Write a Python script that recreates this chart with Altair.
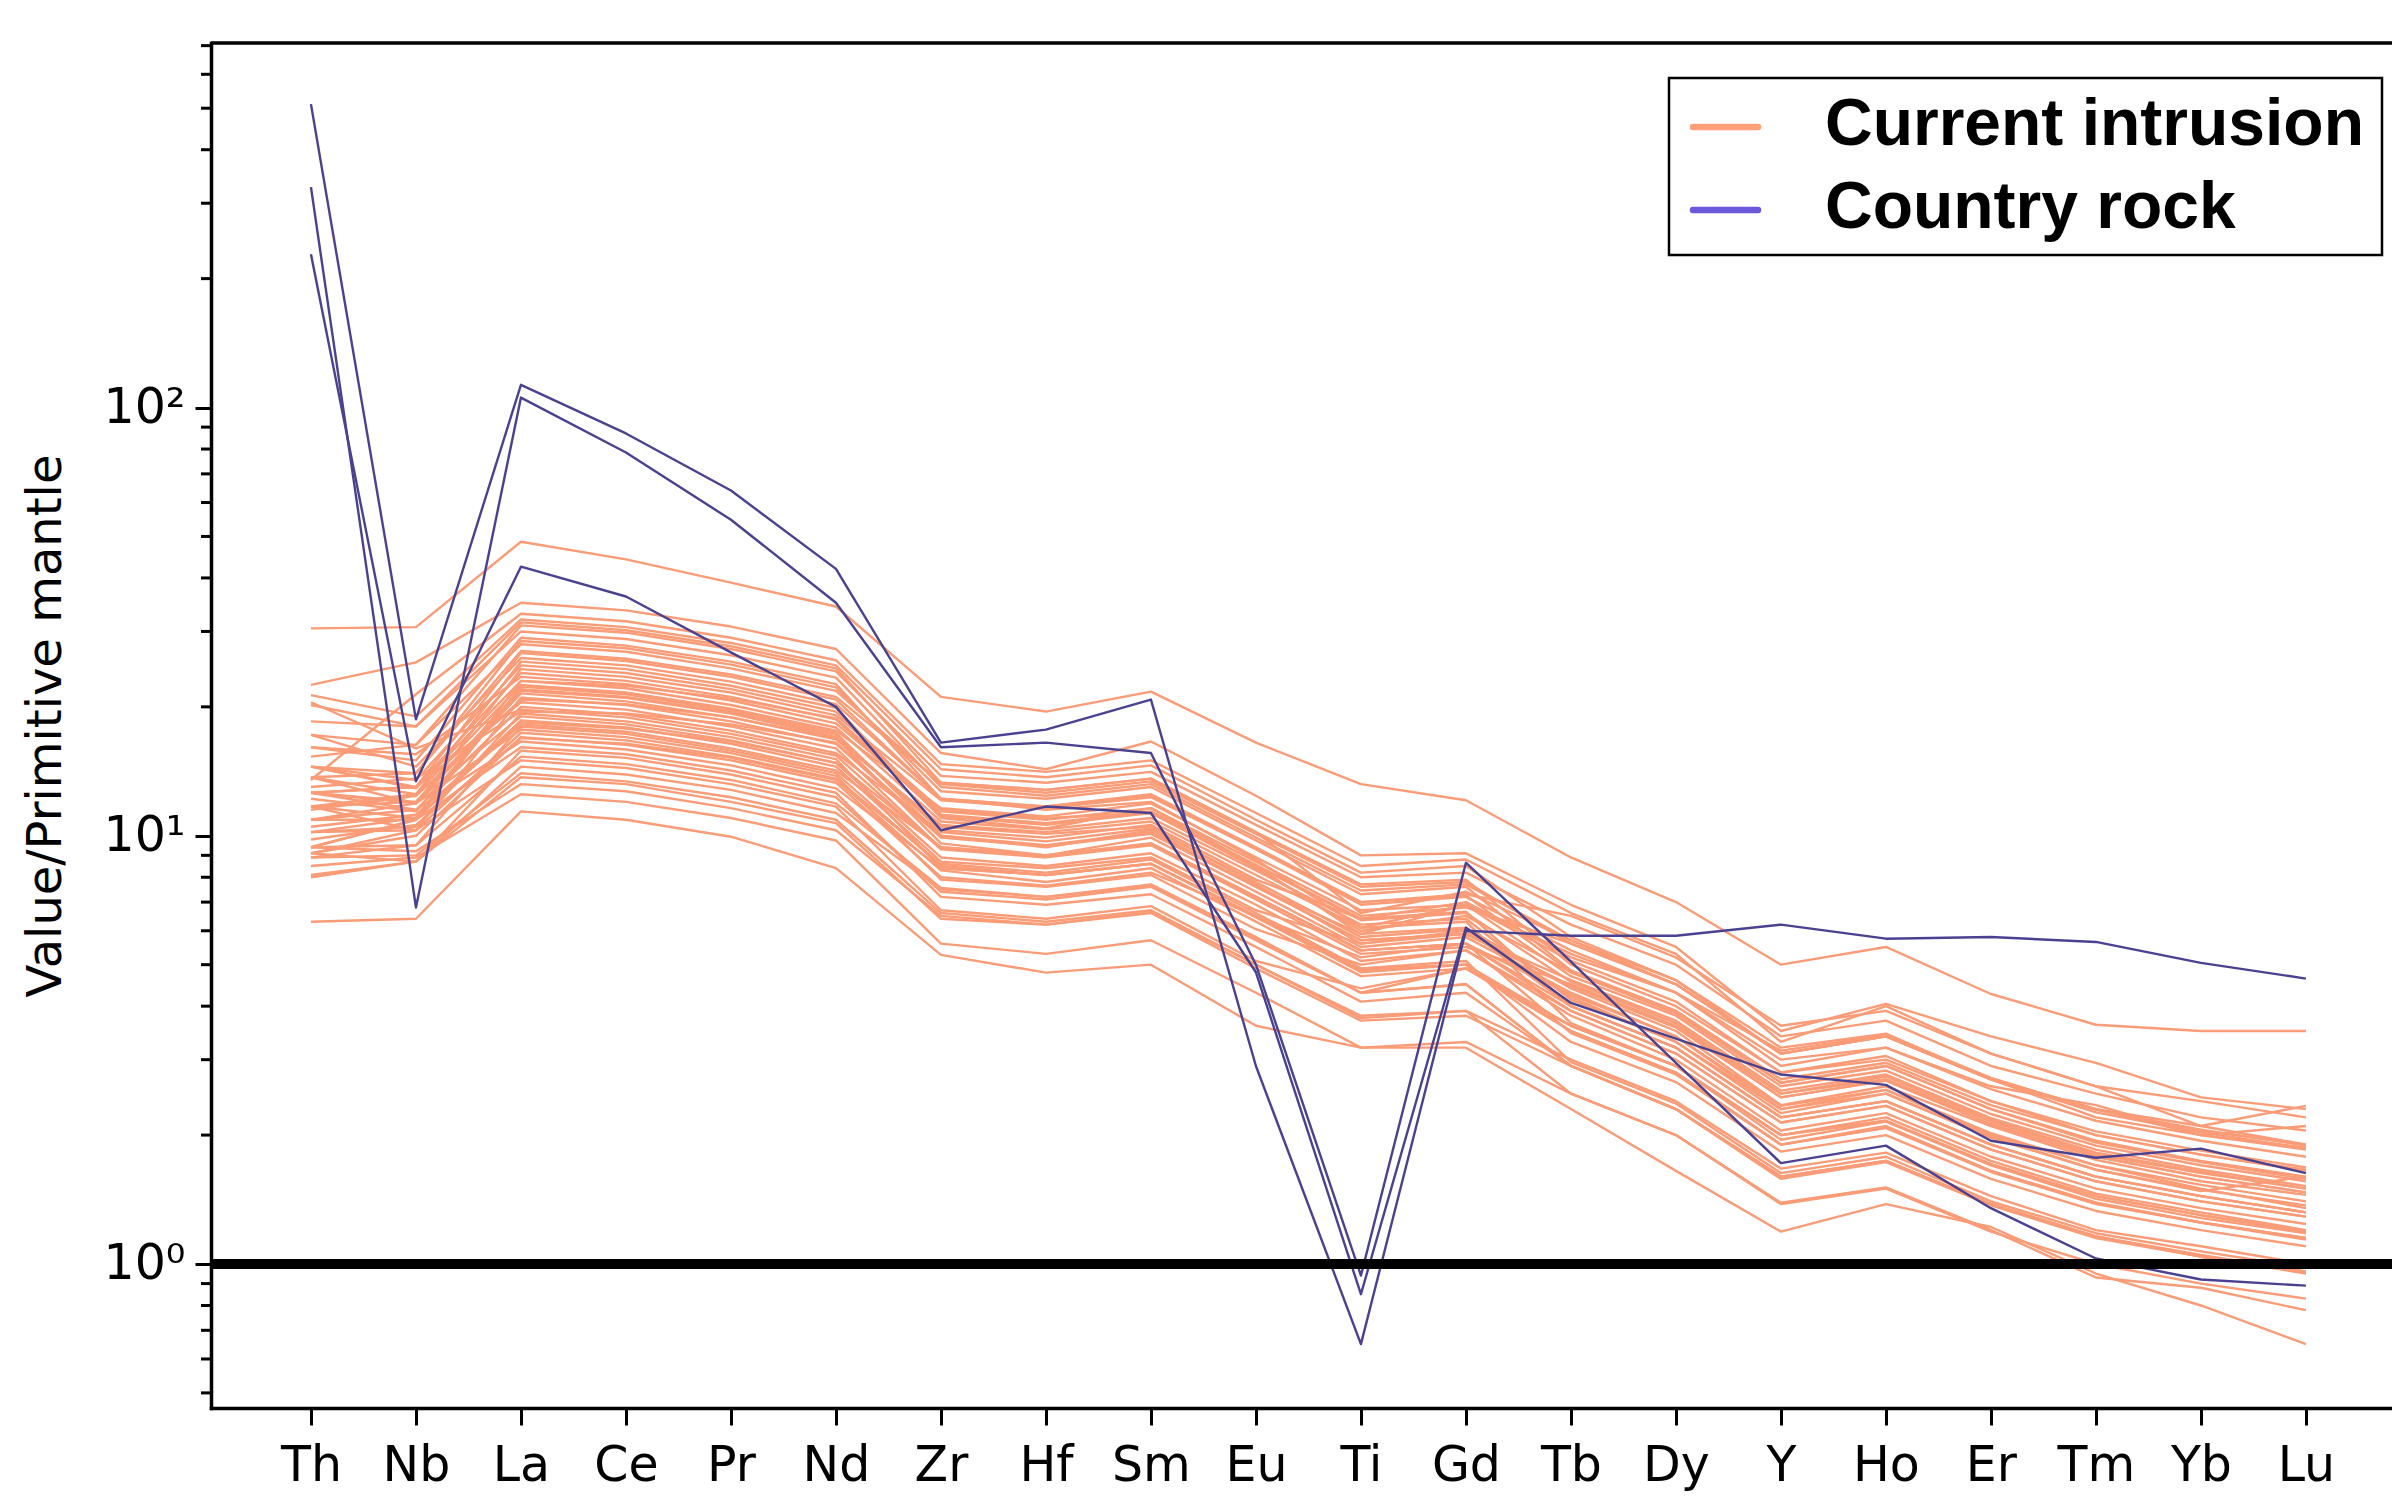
import altair as alt
import pandas as pd

elements = ["Th", "Nb", "La", "Ce", "Pr", "Nd", "Zr", "Hf", "Sm", "Eu",
            "Ti", "Gd", "Tb", "Dy", "Y", "Ho", "Er", "Tm", "Yb", "Lu"]

# Current intrusion samples (normalised to primitive mantle)
o01 = [30.5, 30.7, 48.6, 44.2, 39.0, 34.3, 21.1, 19.5, 21.7, 16.5, 13.2, 12.1, 8.9, 7.0, 5.0, 5.5, 4.27, 3.62, 3.5, 3.5]
o02 = [6.3, 6.4, 11.4, 10.9, 9.95, 8.4, 5.27, 4.79, 5.0, 3.6, 3.2, 3.2, 2.3, 1.65, 1.19, 1.38, 1.22, 0.95, 0.8, 0.65]
o03 = [22.5, 25.4, 35.0, 33.6, 30.8, 27.3, 15.6, 14.3, 16.6, 12.4, 9.0, 9.1, 6.9, 5.5, 3.5, 4.05, 3.4, 2.95, 2.45, 2.3]
o04 = [13.5, 21.4, 33.0, 31.7, 29.0, 25.7, 14.7, 14.1, 15.0, 11.3, 8.5, 8.8, 6.6, 5.3, 3.3, 4.0, 3.1, 2.6, 2.4, 2.2]
o05 = [21.3, 19.0, 32.0, 30.7, 28.2, 25.0, 14.3, 13.7, 14.6, 10.9, 8.2, 8.5, 5.8, 4.6, 3.2, 3.45, 2.7, 2.3, 2.1, 1.9]
o06 = [20.2, 18.0, 31.5, 30.2, 27.7, 24.6, 13.3, 12.8, 13.6, 10.2, 7.7, 7.9, 5.0, 4.0, 2.8, 3.0, 2.4, 2.0, 1.8, 1.66]
o07 = [17.2, 16.3, 31.0, 29.8, 27.3, 24.2, 13.8, 13.3, 14.1, 10.6, 8.0, 8.2, 6.2, 5.0, 3.4, 3.7, 2.9, 2.5, 2.2, 2.05]
o08 = [18.5, 18.0, 30.0, 28.8, 26.4, 23.4, 13.0, 12.4, 13.2, 9.9, 7.45, 7.7, 5.7, 4.6, 3.1, 3.4, 2.7, 2.3, 2.05, 1.9]
o09 = [16.1, 15.0, 29.0, 27.8, 25.5, 22.6, 12.2, 11.5, 12.0, 8.8, 6.1, 6.9, 5.3, 4.3, 2.9, 3.2, 2.6, 2.35, 2.0, 2.1]
o10 = [14.5, 14.0, 28.5, 27.4, 25.1, 22.2, 12.7, 12.2, 13.0, 9.75, 7.3, 7.6, 4.85, 3.9, 2.65, 2.9, 2.3, 1.94, 1.74, 1.6]
o11 = [15.3, 16.3, 28.0, 26.9, 24.6, 21.8, 13.2, 12.6, 13.4, 10.1, 7.6, 7.8, 5.6, 4.5, 3.1, 3.4, 2.7, 2.2, 2.0, 1.85]
o12 = [13.7, 14.0, 27.0, 25.9, 23.8, 21.1, 13.3, 12.8, 13.6, 10.2, 6.6, 7.4, 5.7, 4.5, 3.1, 3.4, 2.7, 2.3, 2.0, 1.87]
o13 = [12.6, 13.0, 26.7, 25.6, 23.5, 20.8, 12.2, 11.7, 12.4, 9.3, 7.0, 7.25, 4.8, 3.85, 2.65, 2.9, 2.3, 1.92, 1.73, 1.58]
o14 = [17.2, 14.5, 26.0, 25.0, 22.9, 20.3, 12.2, 11.7, 12.5, 9.4, 7.0, 7.3, 6.5, 5.2, 3.6, 3.9, 3.1, 2.6, 2.1, 2.34]
o15 = [11.7, 12.5, 25.5, 24.5, 22.4, 19.9, 11.0, 10.4, 11.6, 8.5, 5.9, 6.9, 5.1, 4.1, 2.8, 3.06, 2.4, 2.04, 1.84, 1.68]
o16 = [14.5, 13.5, 25.0, 24.0, 22.0, 19.5, 11.2, 10.7, 11.4, 8.55, 6.4, 6.65, 4.0, 3.2, 2.2, 2.4, 1.9, 1.6, 1.44, 1.32]
o17 = [10.9, 11.9, 24.5, 23.5, 21.6, 19.1, 12.1, 11.6, 12.3, 9.3, 6.9, 7.2, 5.4, 4.3, 3.0, 3.2, 2.56, 2.16, 1.94, 1.78]
o18 = [12.6, 13.0, 24.0, 23.0, 21.1, 18.7, 11.1, 10.6, 11.3, 8.5, 6.35, 6.6, 4.56, 3.65, 2.5, 2.74, 2.17, 1.82, 1.64, 1.5]
o19 = [16.1, 15.5, 23.5, 22.6, 20.7, 18.3, 11.4, 10.9, 11.6, 8.7, 6.5, 6.8, 5.6, 4.5, 3.1, 3.4, 2.7, 2.26, 2.03, 1.86]
o20 = [10.2, 11.0, 23.0, 22.1, 20.2, 17.9, 10.8, 10.35, 11.0, 8.3, 6.2, 6.4, 4.14, 3.3, 2.3, 2.5, 1.97, 1.66, 1.49, 1.37]
o21 = [13.7, 12.5, 22.5, 21.6, 19.8, 17.6, 11.6, 11.1, 11.9, 8.9, 6.7, 6.9, 4.7, 3.8, 2.6, 2.83, 2.24, 1.89, 1.7, 1.56]
o22 = [9.4, 10.9, 22.3, 21.4, 19.6, 17.4, 10.0, 9.5, 10.2, 7.6, 5.7, 5.9, 4.46, 3.57, 2.45, 2.68, 2.12, 1.78, 1.6, 1.47]
o23 = [11.7, 12.0, 22.0, 21.1, 19.4, 17.2, 10.3, 9.9, 10.6, 7.9, 6.4, 7.0, 5.2, 4.3, 3.15, 3.43, 2.72, 2.29, 2.06, 1.89]
o24 = [12.6, 11.9, 21.5, 20.6, 18.9, 16.8, 10.6, 10.2, 10.8, 8.1, 6.1, 6.3, 3.65, 2.9, 2.0, 2.2, 1.74, 1.46, 1.32, 1.2]
o25 = [9.1, 10.3, 21.0, 20.2, 18.5, 16.4, 9.9, 9.45, 10.1, 7.6, 5.7, 5.9, 4.6, 3.7, 2.54, 2.77, 2.19, 1.85, 1.66, 1.52]
o26 = [14.5, 13.0, 20.5, 19.7, 18.0, 16.0, 9.35, 8.95, 9.55, 7.2, 5.4, 5.6, 3.9, 3.1, 2.14, 2.34, 1.85, 1.56, 1.4, 1.29]
o27 = [10.9, 11.5, 20.0, 19.2, 17.6, 15.6, 10.2, 9.7, 10.4, 7.8, 5.8, 6.05, 4.0, 3.2, 2.2, 2.4, 1.9, 1.6, 1.44, 1.32]
o28 = [20.5, 16.0, 19.7, 18.9, 17.3, 15.4, 9.3, 8.9, 9.5, 7.1, 5.3, 5.5, 4.5, 3.6, 2.5, 2.7, 2.15, 1.8, 1.63, 1.5]
o29 = [10.2, 10.5, 19.3, 18.5, 17.0, 15.1, 8.4, 8.1, 8.6, 6.5, 4.85, 5.0, 3.5, 2.8, 1.9, 2.08, 1.65, 1.39, 1.25, 1.15]
o30 = [12.6, 12.0, 19.0, 18.2, 16.7, 14.8, 9.4, 9.0, 9.6, 7.2, 5.4, 5.6, 4.0, 3.2, 2.2, 2.4, 1.9, 1.6, 1.44, 1.32]
o31 = [9.4, 10.9, 18.6, 17.9, 16.4, 14.5, 8.7, 8.4, 8.9, 6.7, 5.6, 5.9, 4.46, 3.57, 2.45, 2.68, 2.12, 1.78, 1.6, 1.47]
o32 = [11.7, 11.0, 18.2, 17.5, 16.0, 14.2, 9.4, 9.0, 9.6, 7.2, 5.4, 5.6, 3.46, 2.77, 1.9, 2.08, 1.64, 1.38, 1.25, 1.14]
o33 = [8.9, 9.5, 18.0, 17.3, 15.8, 14.0, 8.5, 8.1, 8.6, 6.5, 4.9, 5.0, 3.6, 2.9, 2.0, 2.16, 1.71, 1.44, 1.3, 1.19]
o34 = [13.7, 11.9, 17.7, 17.0, 15.6, 13.8, 7.9, 7.6, 8.1, 6.05, 5.0, 5.4, 3.9, 3.1, 2.14, 2.34, 1.85, 1.56, 1.4, 1.29]
o35 = [10.2, 10.3, 17.4, 16.7, 15.3, 13.6, 8.6, 8.2, 8.8, 6.6, 4.9, 5.1, 2.96, 2.37, 1.63, 1.78, 1.4, 1.18, 1.07, 0.98]
o36 = [9.1, 10.0, 17.0, 16.3, 15.0, 13.3, 8.0, 7.65, 8.2, 6.5, 5.2, 5.6, 4.25, 3.4, 2.34, 2.55, 2.02, 1.7, 1.53, 1.4]
o37 = [12.6, 11.5, 16.6, 15.9, 14.6, 12.9, 8.4, 8.1, 8.6, 6.45, 4.8, 5.0, 3.3, 2.66, 1.83, 2.0, 1.58, 1.33, 1.2, 1.1]
o38 = [10.9, 10.9, 16.1, 15.5, 14.2, 12.6, 7.2, 6.9, 7.3, 5.5, 4.1, 4.3, 2.9, 2.3, 1.6, 1.74, 1.38, 1.16, 1.04, 0.96]
o39 = [8.0, 8.7, 15.8, 15.2, 13.9, 12.3, 7.4, 7.1, 7.6, 5.7, 4.3, 4.9, 3.5, 2.8, 1.9, 2.1, 1.65, 1.39, 1.25, 1.15]
o40 = [9.4, 9.5, 15.3, 14.7, 13.5, 11.9, 7.55, 7.2, 7.7, 5.8, 4.3, 4.5, 2.9, 2.3, 1.6, 1.74, 1.38, 1.16, 1.05, 0.96]
o41 = [11.7, 10.3, 15.0, 14.4, 13.2, 11.7, 6.7, 6.4, 6.85, 5.1, 4.4, 4.9, 3.6, 2.9, 2.0, 2.16, 1.71, 1.44, 1.3, 1.19]
o42 = [9.1, 8.7, 14.5, 13.9, 12.8, 11.3, 7.5, 7.2, 7.65, 5.75, 4.3, 4.5, 2.9, 2.3, 1.6, 1.74, 1.38, 1.16, 1.04, 0.96]
o43 = [8.9, 9.0, 14.0, 13.4, 12.3, 10.9, 6.6, 6.3, 6.7, 5.0, 3.8, 3.9, 2.5, 2.0, 1.39, 1.51, 1.2, 0.93, 0.88, 0.78]
o44 = [8.1, 8.7, 13.7, 13.2, 12.0, 10.7, 6.4, 6.2, 6.6, 4.9, 3.7, 3.8, 2.9, 2.3, 1.58, 1.73, 1.37, 1.15, 1.04, 0.95]
o45 = [9.4, 9.2, 13.2, 12.7, 11.6, 10.3, 6.5, 6.2, 6.65, 5.0, 3.75, 3.9, 3.0, 2.4, 1.67, 1.82, 1.44, 1.2, 1.1, 1.0]
o46 = [8.5, 8.9, 12.5, 12.0, 11.0, 9.75, 5.6, 5.3, 5.7, 4.3, 3.2, 3.3, 2.5, 2.0, 1.38, 1.5, 1.19, 1.0, 0.9, 0.83]
o47 = [14.5, 12.9, 23.0, 22.4, 20.9, 18.8, 11.5, 11.0, 11.3, 8.4, 6.0, 6.5, 4.8, 3.9, 2.7, 2.95, 2.35, 2.0, 1.8, 1.65]
o48 = [11.5, 12.4, 20.8, 20.3, 18.9, 16.9, 9.6, 9.0, 9.9, 7.4, 5.5, 5.8, 4.3, 3.4, 2.3, 2.55, 2.0, 1.7, 1.5, 1.35]
o49 = [13.0, 13.6, 19.5, 19.3, 18.2, 16.5, 10.0, 9.4, 10.3, 7.6, 5.9, 6.1, 4.4, 3.5, 2.35, 2.6, 2.1, 1.75, 1.56, 1.45]
o50 = [10.5, 11.2, 18.4, 17.8, 16.6, 14.8, 8.9, 8.5, 9.1, 6.9, 5.1, 5.4, 3.8, 3.0, 2.05, 2.25, 1.78, 1.5, 1.35, 1.24]
o51 = [12.2, 11.4, 21.8, 21.0, 19.3, 17.0, 10.5, 10.1, 10.5, 7.7, 5.6, 6.0, 4.2, 3.3, 2.25, 2.5, 1.98, 1.66, 1.48, 1.6]
o52 = [9.8, 10.6, 16.9, 16.4, 15.2, 13.5, 8.3, 7.8, 8.4, 6.3, 4.7, 4.9, 3.6, 2.9, 1.95, 2.15, 1.7, 1.42, 1.28, 1.18]

current_intrusion = [o01, o02, o03, o04, o05, o06, o07, o08, o09, o10, o11, o12, o13,
                     o14, o15, o16, o17, o18, o19, o20, o21, o22, o23, o24, o25, o26,
                     o27, o28, o29, o30, o31, o32, o33, o34, o35, o36, o37, o38, o39,
                     o40, o41, o42, o43, o44, o45, o46, o47, o48, o49, o50, o51, o52]

# Country rock samples
pA = [511, 18.7, 113, 87, 64, 42, 16.5, 17.7, 20.8, 2.9, 0.65, 6.0, 5.84, 5.84, 6.2, 5.75, 5.8, 5.65, 5.05, 4.64]
pB = [327, 6.8, 105.5, 78.5, 54.7, 35, 16.1, 16.5, 15.6, 5.0, 0.94, 8.65, 5.08, 2.95, 1.72, 1.89, 1.35, 1.03, 0.92, 0.89]
pC = [228, 13.4, 42.5, 36.2, 26.8, 20, 10.3, 11.7, 11.3, 4.8, 0.85, 6.1, 4.07, 3.36, 2.77, 2.62, 1.94, 1.77, 1.86, 1.63]
country_rock = [pA, pB, pC]

y_major_ticks = [1, 10, 100]
y_major_labels = ["10\u2070", "10\u00b9", "10\u00b2"]
y_minor_ticks = [0.5, 0.6, 0.7, 0.8, 0.9, 2, 3, 4, 5, 6, 7, 8, 9,
                 20, 30, 40, 50, 60, 70, 80, 90, 200, 300, 400, 500, 600, 700]
reference_level = [1]

legend_labels = ["Current intrusion", "Country rock"]
legend_colors = ["#FFA07A", "#6A58DA"]
line_colors = ["#F99C77", "#4A4290"]


def to_long(series_list, group):
    rows = []
    for i, s in enumerate(series_list):
        for j, v in enumerate(s):
            rows.append({"group": group, "sample": f"{group} {i}", "idx": j,
                         "element": elements[j], "value": v})
    return pd.DataFrame(rows)


df_cur = to_long(current_intrusion, legend_labels[0])
df_cr = to_long(country_rock, legend_labels[1])

W, H = 2181, 1365
FONT = "DejaVu Sans"

xscale = alt.Scale(domain=[-0.952, 19.82], nice=False, zero=False)
yscale = alt.Scale(type="log", domain=[0.461, 710], nice=False)

label_expr_x = "[" + ",".join(f"'{e}'" for e in elements) + "][datum.value]"
label_expr_y = " : ".join(f"datum.value == {v} ? '{l}'" for v, l in zip(y_major_ticks, y_major_labels)) + " : ''"

xaxis = alt.Axis(values=list(range(len(elements))), labelExpr=label_expr_x, title=None,
                 grid=False, tickSize=17, tickWidth=3, tickColor="black",
                 domainColor="black", domainWidth=3.5, domainCap="square",
                 labelFont=FONT, labelFontSize=49, labelColor="black",
                 labelPadding=16, labelAngle=0, labelFlush=False, labelOverlap=False)
yaxis = alt.Axis(values=y_major_ticks, labelExpr=label_expr_y,
                 title="Value/Primitive mantle", titleFont=FONT, titleFontSize=48,
                 titleFontWeight="normal", titleColor="black",
                 titleX=-165, titleY=H / 2, titleAngle=270, titleAlign="center",
                 titleBaseline="middle",
                 grid=False, tickSize=16, tickWidth=3, tickColor="black",
                 domainColor="black", domainWidth=3.5, domainCap="square",
                 labelFont=FONT, labelFontSize=49, labelColor="black",
                 labelPadding=10, labelFlush=False, labelOverlap=False)

X = alt.X("idx:Q", scale=xscale, axis=xaxis)
Y = alt.Y("value:Q", scale=yscale, axis=yaxis)

cur_lines = alt.Chart(df_cur).mark_line(strokeWidth=2.4, color=line_colors[0], strokeJoin="round").encode(
    x=X, y=Y, detail="sample:N")
cr_lines = alt.Chart(df_cr).mark_line(strokeWidth=2.4, color=line_colors[1], strokeJoin="round").encode(
    x=X, y=Y, detail="sample:N")

ref_line = alt.Chart(pd.DataFrame({"value": reference_level})).mark_rule(
    strokeWidth=10, color="black").encode(y=Y)

minor = alt.Chart(pd.DataFrame({"value": y_minor_ticks})).mark_rule(
    strokeWidth=3, color="black").encode(y=Y, x=alt.value(-10), x2=alt.value(0))

one = pd.DataFrame({"k": [0]})
top_spine = alt.Chart(one).mark_rule(strokeWidth=3.5, color="black").encode(
    x=alt.value(0), x2=alt.value(W), y=alt.value(0))

legend_box = alt.Chart(one).mark_rect(fill="white", stroke="black", strokeWidth=2.5).encode(
    x=alt.value(1458), x2=alt.value(2171), y=alt.value(35), y2=alt.value(212))

legend_layers = [legend_box]
sym_y = [84, 167]
txt_y = [102, 185]
for lab, col, sy, ty in zip(legend_labels, legend_colors, sym_y, txt_y):
    legend_layers.append(
        alt.Chart(one).mark_rule(strokeWidth=6.5, color=col, strokeCap="round").encode(
            x=alt.value(1482), x2=alt.value(1547), y=alt.value(sy)))
    legend_layers.append(
        alt.Chart(pd.DataFrame({"label": [lab]})).mark_text(
            font="Liberation Sans", fontWeight="bold", fontSize=66, align="left",
            baseline="alphabetic", color="black").encode(
            x=alt.value(1614), y=alt.value(ty), text="label:N"))

chart = alt.layer(cur_lines, cr_lines, ref_line, minor, top_spine, *legend_layers).properties(
    width=W, height=H,
    padding={"left": 203, "top": 35, "right": 0, "bottom": 90},
    autosize=alt.AutoSizeParams(type="none"),
    background="white",
).configure_view(stroke=None)

chart.save("out.html", embed_options={"renderer": "svg", "actions": False})
